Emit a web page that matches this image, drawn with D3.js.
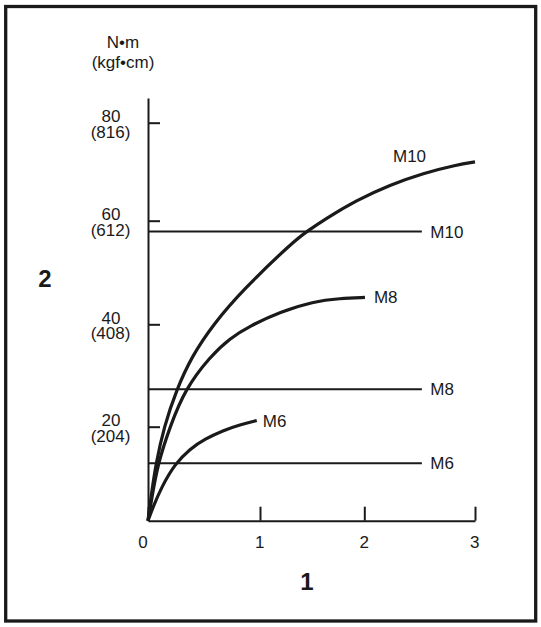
<!DOCTYPE html>
<html>
<head>
<meta charset="utf-8">
<script src="https://cdn.jsdelivr.net/npm/d3@7"></script>
<style>
  body { margin: 0; background: #fff; }
  svg text { font-family: "Liberation Sans", Arial, sans-serif; fill: #1a1a1a; }
</style>
</head>
<body>
<div id="chart"></div>
<script>
// valores
const xTicks = [0, 1, 2, 3];
const yTicks = [20, 40, 60, 80];
const yTicksKgf = ['(204)', '(408)', '(612)', '(816)'];
const unitTop = 'N•m';
const unitBottom = '(kgf•cm)';
const xTitle = '1';
const yTitle = '2';

// curvas [x, y]
const curveM6 = [[0, 0], [0.045, 2.9], [0.122, 7.2], [0.241, 12.1], [0.375, 15.3], [0.509, 17.4], [0.67, 19.2], [0.821, 20.4], [0.971, 21.2]];
const curveM8 = [[0, 0], [0.036, 5.1], [0.089, 12.2], [0.196, 20.0], [0.33, 27.3], [0.554, 33.7], [0.732, 37.3], [0.911, 39.7], [1.192, 42.4], [1.511, 44.4], [1.767, 45.0], [2.006, 45.2]];
const curveM10 = [[0, 0], [0.027, 5.1], [0.071, 12.2], [0.143, 20.0], [0.256, 27.3], [0.39, 33.7], [0.583, 40.0], [0.845, 46.6], [1.319, 56.0], [1.463, 58.1], [1.607, 60.1], [1.927, 64.2], [2.232, 67.3], [2.533, 69.7], [2.835, 71.4], [3.0, 72.0]];
const curveNames = ['M6', 'M8', 'M10'];

// lineas horizontales
const limitNames = ['M6', 'M8', 'M10'];
const limitValues = [12.2, 27.3, 57.9];
const limitEnd = 2.52;

const width = 541;
const height = 627;

const svg = d3.select('#chart')
  .append('svg')
  .attr('width', width)
  .attr('height', height);

// marco
svg.append('rect')
  .attr('x', 5.7)
  .attr('y', 6.5)
  .attr('width', 530)
  .attr('height', 614.5)
  .attr('fill', 'none')
  .attr('stroke', '#1a1a1a')
  .attr('stroke-width', 3.3);

// las marcas del original no estan del todo equiespaciadas
const x = d3.scaleLinear().domain([0, 1, 2, 3]).range([148, 260, 364.3, 475]);
const y = d3.scaleLinear().domain([0, 20, 40, 60, 80, 85]).range([520.7, 426.7, 324.3, 220.7, 122.7, 98]);

const ink = '#1a1a1a';

// eje x
const xAxis = svg.append('g')
  .attr('transform', `translate(0, ${y(0)})`)
  .call(d3.axisBottom(x).tickValues(xTicks).tickSizeInner(-14).tickSizeOuter(0).tickFormat(''));

xAxis.selectAll('.tick')
  .append('text')
  .attr('y', 27)
  .attr('dx', d => d === 0 ? -5.5 : -0.7)
  .attr('text-anchor', 'middle')
  .style('font-size', '17px')
  .text(d => d);

// eje y
const yAxis = svg.append('g')
  .attr('transform', `translate(${x(0)}, 0)`)
  .call(d3.axisLeft(y).tickValues(yTicks).tickSizeInner(-12).tickSizeOuter(0).tickFormat(''));

const yLabels = yAxis.selectAll('.tick');

yLabels.append('text')
  .attr('x', -37)
  .attr('y', -1)
  .attr('text-anchor', 'middle')
  .style('font-size', '17px')
  .text(d => d);

yLabels.append('text')
  .attr('x', -37.5)
  .attr('y', 14.5)
  .attr('text-anchor', 'middle')
  .style('font-size', '17px')
  .text((d, i) => yTicksKgf[i]);

svg.selectAll('.domain, .tick line')
  .attr('stroke', ink)
  .attr('stroke-width', 2);

// unidades
svg.append('text')
  .attr('x', 123)
  .attr('y', 48)
  .attr('text-anchor', 'middle')
  .style('font-size', '17px')
  .text(unitTop);

svg.append('text')
  .attr('x', 123)
  .attr('y', 68)
  .attr('text-anchor', 'middle')
  .style('font-size', '17px')
  .text(unitBottom);

// titulos de ejes
svg.append('text')
  .attr('x', 307)
  .attr('y', 590)
  .attr('text-anchor', 'middle')
  .style('font-size', '24px')
  .style('font-weight', 'bold')
  .text(xTitle);

svg.append('text')
  .attr('x', 45)
  .attr('y', 287)
  .attr('text-anchor', 'middle')
  .style('font-size', '24px')
  .style('font-weight', 'bold')
  .text(yTitle);

// lineas horizontales
svg.selectAll('.limit')
  .data(limitValues)
  .enter()
  .append('line')
  .attr('class', 'limit')
  .attr('x1', x(0))
  .attr('x2', x(limitEnd))
  .attr('y1', d => y(d))
  .attr('y2', d => y(d))
  .attr('stroke', ink)
  .attr('stroke-width', 2);

svg.selectAll('.limit-label')
  .data(limitValues)
  .enter()
  .append('text')
  .attr('class', 'limit-label')
  .attr('x', x(limitEnd) + 8.5)
  .attr('y', d => y(d) + 6)
  .style('font-size', '17px')
  .text((d, i) => limitNames[i]);

// curvas, suavizadas con basis porque los puntos leidos tienen algo de ruido
const curves = [curveM6, curveM8, curveM10];

const line = d3.line()
  .x(d => x(d[0]))
  .y(d => y(d[1]))
  .curve(d3.curveBasis);

svg.selectAll('.curve')
  .data(curves)
  .enter()
  .append('path')
  .attr('class', 'curve')
  .attr('d', line)
  .attr('fill', 'none')
  .attr('stroke', ink)
  .attr('stroke-width', 3.2)
  .attr('stroke-linecap', 'butt');

// etiquetas al final de cada curva
const labelOffset = { M6: [6, 6], M8: [9, 6], M10: [-82, 0] };

svg.selectAll('.curve-label')
  .data(curves)
  .enter()
  .append('text')
  .attr('class', 'curve-label')
  .attr('x', (d, i) => x(d[d.length - 1][0]) + labelOffset[curveNames[i]][0])
  .attr('y', (d, i) => y(d[d.length - 1][1]) + labelOffset[curveNames[i]][1])
  .style('font-size', '17px')
  .text((d, i) => curveNames[i]);
</script>
</body>
</html>
